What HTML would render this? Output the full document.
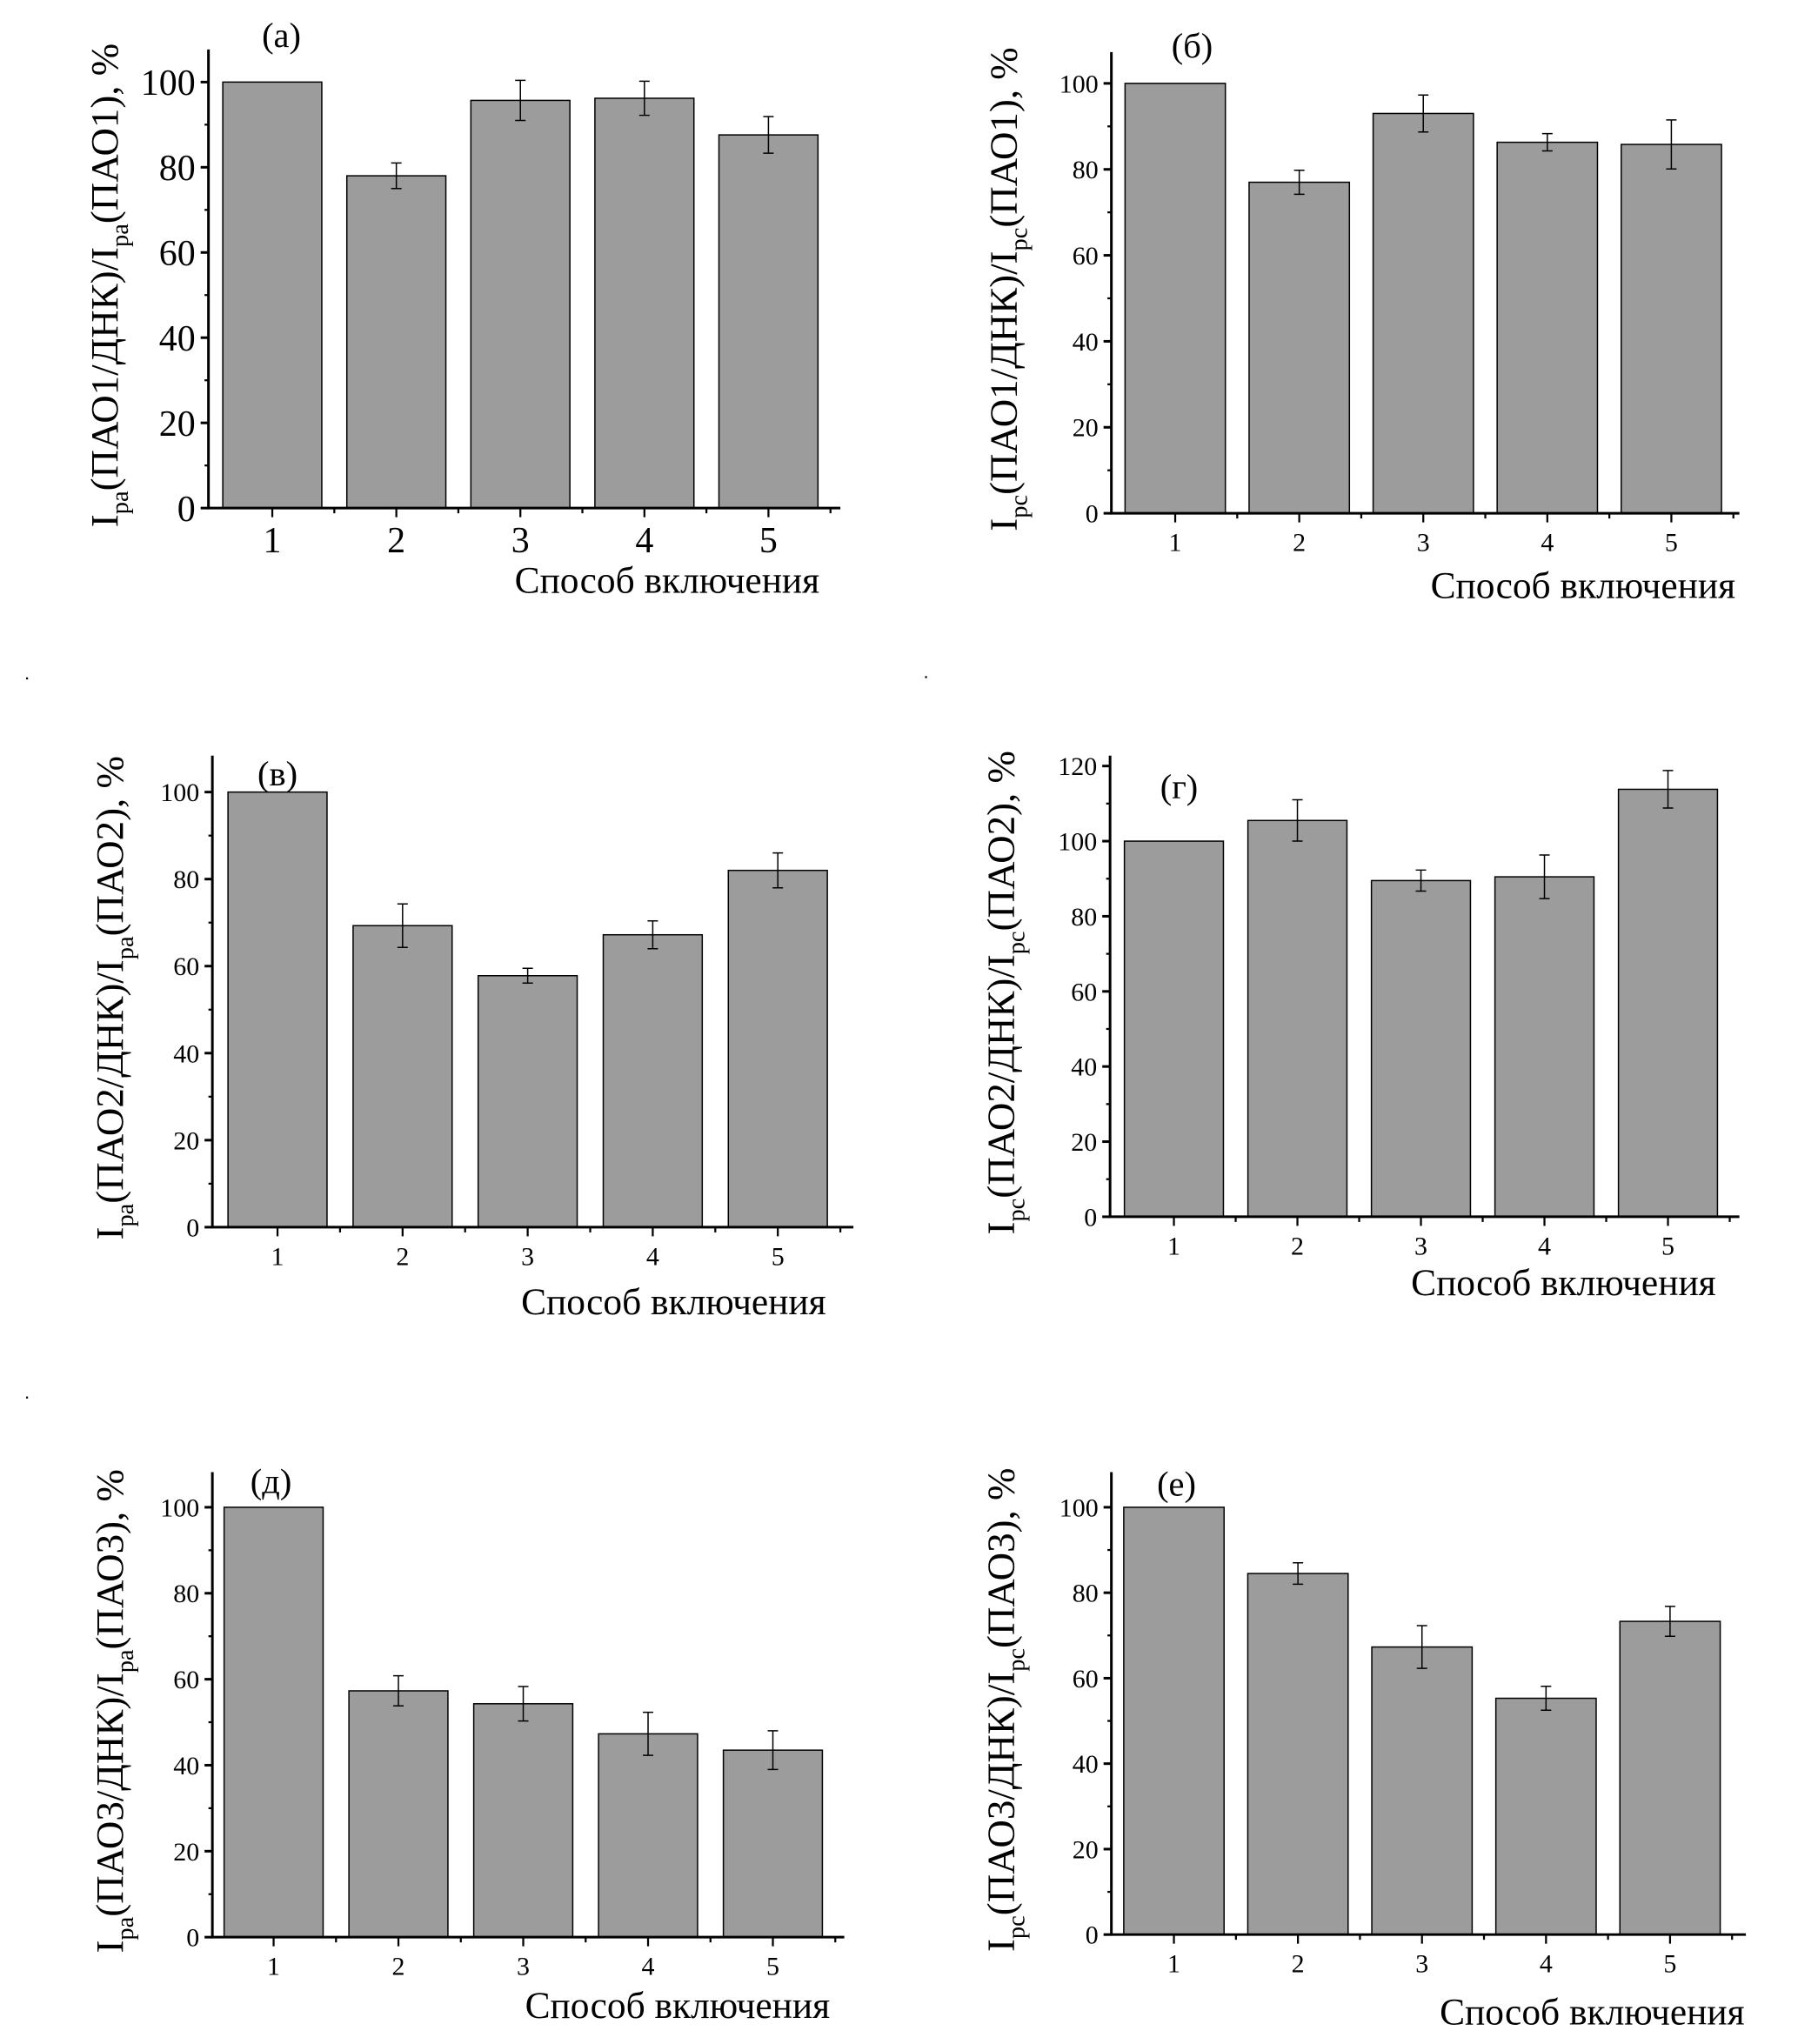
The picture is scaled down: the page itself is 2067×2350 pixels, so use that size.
<!DOCTYPE html>
<html><head><meta charset="utf-8"><style>
html,body{margin:0;padding:0;background:#fff;}
svg{display:block;}
text{font-family:"Liberation Serif","DejaVu Serif",serif;fill:#000;}
</style></head><body>
<svg id="fig" width="2067" height="2350" viewBox="0 0 1380 1569" preserveAspectRatio="none" xmlns="http://www.w3.org/2000/svg"></svg>
<script>
const categories = ["1","2","3","4","5"];
const valuesA = [100, 78, 95.7, 96.2, 87.6];
const errorsA = [0, 3, 4.7, 4, 4.3];
const valuesB = [100, 77, 93, 86.3, 85.8];
const errorsB = [0, 2.8, 4.3, 2, 5.7];
const valuesV = [100, 69.3, 57.8, 67.2, 82];
const errorsV = [0, 5, 1.7, 3.2, 4];
const valuesG = [100, 105.5, 89.5, 90.5, 113.8];
const errorsG = [0, 5.5, 2.8, 5.8, 5];
const valuesD = [100, 57.3, 54.3, 47.3, 43.5];
const errorsD = [0, 3.5, 4, 5, 4.5];
const valuesE = [100, 84.5, 67.3, 55.3, 73.3];
const errorsE = [0, 2.5, 5, 2.8, 3.5];
const ticks100 = [0, 20, 40, 60, 80, 100];
const ticks120 = [0, 20, 40, 60, 80, 100, 120];

const panels = [
 {id:'a', label:'(а)', vals:valuesA, errs:errorsA, ticks:ticks100, x0:160, right:645, y0:390, ymaxPix:63, ymaxVal:100, top:38, c1:209, step:95.2, bw:76, lx:216, ly:36, tf:28, sub:'pa', mol:'ПАО1', ytx:90, xtx:512, xty:455, tly:424},
 {id:'b', label:'(б)', vals:valuesB, errs:errorsB, ticks:ticks100, x0:853, right:1335, y0:394, ymaxPix:64, ymaxVal:100, top:40, c1:902, step:95.2, bw:77, lx:915, ly:44, tf:20, sub:'pc', mol:'ПАО1', ytx:780, xtx:1215, xty:459, tly:423},
 {id:'v', label:'(в)', vals:valuesV, errs:errorsV, ticks:ticks100, x0:163, right:655, y0:942, ymaxPix:608, ymaxVal:100, top:580, c1:213, step:96, bw:76, lx:213, ly:603, tf:20, sub:'pa', mol:'ПАО2', ytx:94, xtx:517, xty:1009, tly:971},
 {id:'g', label:'(г)', vals:valuesG, errs:errorsG, ticks:ticks120, x0:852, right:1335, y0:934, ymaxPix:588, ymaxVal:120, top:580, c1:901, step:94.8, bw:76, lx:905, ly:613, tf:20, sub:'pc', mol:'ПАО2', ytx:778, xtx:1200, xty:994, tly:963},
 {id:'d', label:'(д)', vals:valuesD, errs:errorsD, ticks:ticks100, x0:163, right:648, y0:1487, ymaxPix:1157, ymaxVal:100, top:1130, c1:210, step:95.8, bw:76, lx:208, ly:1146, tf:20, sub:'pa', mol:'ПАО3', ytx:94, xtx:520, xty:1549, tly:1516},
 {id:'e', label:'(е)', vals:valuesE, errs:errorsE, ticks:ticks100, x0:853, right:1340, y0:1485, ymaxPix:1157, ymaxVal:100, top:1130, c1:901, step:95.2, bw:77, lx:903, ly:1148, tf:20, sub:'pc', mol:'ПАО3', ytx:778, xtx:1222, xty:1554, tly:1514}
];
const NS='http://www.w3.org/2000/svg';
const svg=document.getElementById('fig');
const FF='"Liberation Serif", "DejaVu Serif", serif';
function mk(tag, attrs, parent){const e=document.createElementNS(NS,tag);for(const k in attrs)e.setAttribute(k,attrs[k]);(parent||svg).appendChild(e);return e;}

panels.forEach(p=>{
  const g=mk('g',{});
  
  
  const yScale=v=>p.y0-(v/p.ymaxVal)*(p.y0-p.ymaxPix);
  const xScale=i=>p.c1+i*p.step;
  p.vals.forEach((v,i)=>{
    const r=mk('rect',{x:xScale(i)-p.bw/2,y:yScale(v),width:p.bw,height:p.y0-yScale(v),fill:'#9c9c9c',stroke:'#000','stroke-width':1},g);
    
    
    const e=p.errs[i];
    if(e>0){
      const cx=xScale(i), yt=yScale(v+e), yb=yScale(v-e);
      const eb=mk('path',{d:`M${cx},${yt}V${yb}M${cx-4},${yt}H${cx+4}M${cx-4},${yb}H${cx+4}`,stroke:'#000','stroke-width':1,fill:'none'},g);
      
      
    }
  });
  const ax=mk('path',{d:`M${p.x0},${p.top}V${p.y0}H${p.right}`,stroke:'#000','stroke-width':2,fill:'none'},g);
  
  
  p.ticks.forEach((t,k)=>{
    const y=yScale(t);
    mk('line',{x1:p.x0-6,x2:p.x0,y1:y,y2:y,stroke:'#000','stroke-width':2},g);
    if(k<p.ticks.length-1){const ym=yScale(t+10);mk('line',{x1:p.x0-3,x2:p.x0,y1:ym,y2:ym,stroke:'#000','stroke-width':1.5},g);}
    const tx=mk('text',{x:p.x0-10,y:y+p.tf*0.35,'font-size':p.tf,'text-anchor':'end','font-family':FF},g);
    tx.textContent=t;
    
    
  });
  categories.forEach((c,i)=>{
    const x=xScale(i);
    mk('line',{x1:x,x2:x,y1:p.y0,y2:p.y0+7,stroke:'#000','stroke-width':1.5},g);
    const xm=x+p.step/2;
    if(xm<p.right) mk('line',{x1:xm,x2:xm,y1:p.y0,y2:p.y0+4,stroke:'#000','stroke-width':1.5},g);
    const tx=mk('text',{x:x,y:p.tly,'font-size':p.tf,'text-anchor':'middle','font-family':FF},g);
    tx.textContent=c;
    
    
  });
  const lb=mk('text',{x:p.lx,y:p.ly,'font-size':27,'text-anchor':'middle','font-family':FF},g);
  lb.textContent=p.label;
  
  
  const xt=mk('text',{x:p.xtx,y:p.xty,'font-size':29,'text-anchor':'middle','font-family':FF},g);
  xt.textContent='Способ включения';
  
  
  const yc=(p.top+p.y0)/2+5;
  const yt=mk('text',{x:0,y:0,'font-size':30,'text-anchor':'middle','font-family':FF,transform:`translate(${p.ytx},${yc}) rotate(-90)`},g);
  
  
  const parts=[['I',0],[p.sub,1],['('+p.mol+'/ДНК)/I',0],[p.sub,1],['('+p.mol+'), %',0]];
  parts.forEach(([s,isSub])=>{
    const ts=mk('tspan',{},yt);
    if(isSub){ts.setAttribute('font-size',19);ts.setAttribute('dy',8);}
    else if(s!=='I'){ts.setAttribute('dy',-8);}
    ts.textContent=s;
  });
});
mk('rect',{x:20,y:520,width:1.5,height:1.5,fill:'#000'});
mk('rect',{x:710,y:519,width:1.5,height:1.5,fill:'#000'});
mk('rect',{x:20,y:1072,width:1.5,height:1.5,fill:'#000'});
</script>
</body></html>
